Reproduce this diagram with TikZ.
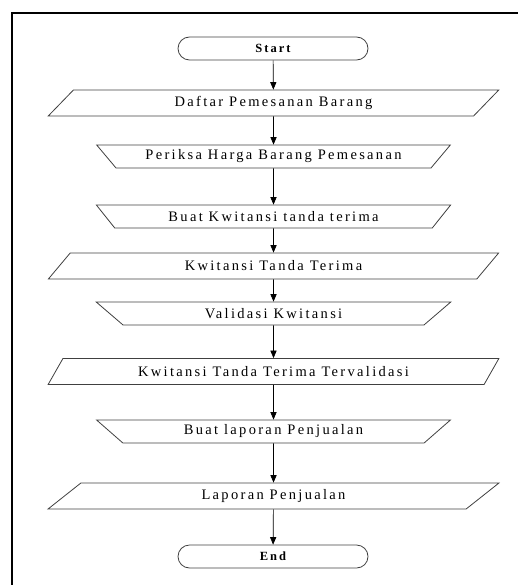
\documentclass[tikz,border=0pt]{standalone}
\usepackage{fontspec}
\setmainfont{Liberation Serif}[LetterSpace=16]
\usepackage{tikz}
\usetikzlibrary{arrows, shapes}

\begin{document}
\begin{tikzpicture}[x=1pt, y=-1pt, font=\fontsize{14.5}{16}\selectfont]
	\useasboundingbox (0,0) rectangle (518,585);
	\tikzstyle{term} = [rounded rectangle, draw=black!75, line width=0.8pt, minimum width=190pt, minimum height=23pt, inner sep=0pt, font=\fontsize{12.5}{14}\selectfont\bfseries]
	\tikzstyle{io} = [trapezium, trapezium stretches=true, trapezium left angle=47, trapezium right angle=133, draw=black!75, line width=0.8pt, minimum width=451pt, minimum height=26pt, inner sep=0pt]
	\tikzstyle{manual} = [trapezium, trapezium stretches=true, trapezium left angle=140, trapezium right angle=140, draw=black!75, line width=0.8pt, minimum width=355pt, minimum height=23pt, inner sep=0pt]
	\draw [line width=2pt] (12,585) -- (12,13) -- (518,13);
	\node [term] (1) at (273,48.5) {Start};
	\node [io] (2) at (273.5,103) {Daftar Pemesanan Barang};
	\node [manual] (3) at (273.5,156.5) {Periksa Harga Barang Pemesanan};
	\node [manual] (4) at (273.5,216.5) {Buat Kwitansi tanda terima};
	\node [io] (5) at (273.5,266) {Kwitansi Tanda Terima};
	\node [manual] (6) at (273.5,313.5) {Validasi Kwitansi};
	\node [io] (7) at (273.5,371.5) {Kwitansi Tanda Terima Tervalidasi};
	\node [manual] (8) at (273.5,431.5) {Buat laporan Penjualan};
	\node [io] (9) at (273.5,496) {Laporan Penjualan};
	\node [term] (10) at (273,556.5) {End};
	\draw [-triangle 45, line width=0.7pt] (1)--(2);
	\draw [-triangle 45, line width=0.7pt] (2)--(3);
	\draw [-triangle 45, line width=0.7pt] (3)--(4);
	\draw [-triangle 45, line width=0.7pt] (4)--(5);
	\draw [-triangle 45, line width=0.7pt] (5)--(6);
	\draw [-triangle 45, line width=0.7pt] (6)--(7);
	\draw [-triangle 45, line width=0.7pt] (7)--(8);
	\draw [-triangle 45, line width=0.7pt] (8)--(9);
	\draw [-triangle 45, line width=0.7pt] (9)--(10);
\end{tikzpicture}
\end{document}
